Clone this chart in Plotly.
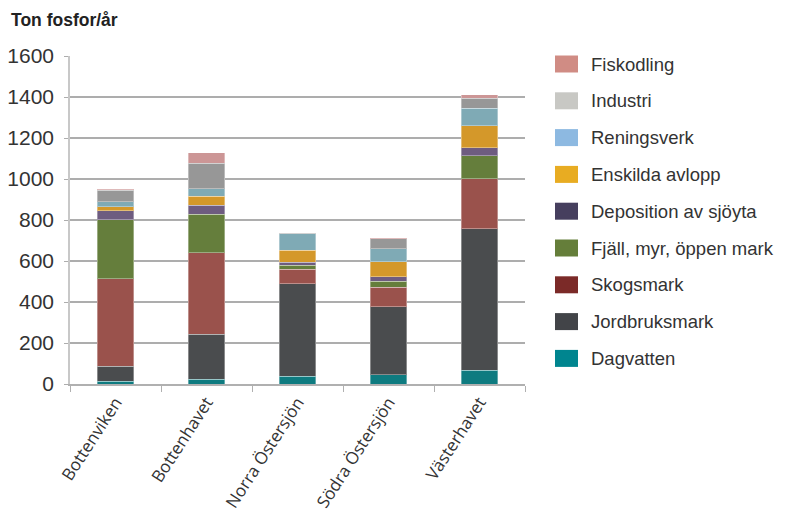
import plotly.graph_objects as go

categories = ["Bottenviken", "Bottenhavet", "Norra Östersjön", "Södra Östersjön", "Västerhavet"]

# series (bottom to top)
dagvatten  = [13, 24, 39, 44, 66]
jordbruk   = [73, 218, 449, 332, 692]
skogsmark  = [428, 398, 71, 97, 244]
fjall      = [288, 187, 20, 29, 112]
deposition = [44, 44, 14, 20, 39]
enskilda   = [18, 44, 59, 75, 107]
reningsverk = [24, 38, 80, 64, 84]
industri   = [58, 125, 3, 48, 49]
fiskodling = [5, 49, 2, 5, 17]

series_names = ["Dagvatten", "Jordbruksmark", "Skogsmark", "Fjäll, myr, öppen mark",
                "Deposition av sjöyta", "Enskilda avlopp", "Reningsverk", "Industri", "Fiskodling"]
series_values = [dagvatten, jordbruk, skogsmark, fjall, deposition, enskilda, reningsverk, industri, fiskodling]
bar_colors = ["#0E7B80", "#4A4C4E", "#9A524C", "#657E3C", "#6E5C80", "#D4982A", "#7FAAB5", "#979797", "#CC9696"]
legend_colors = ["#00858F", "#424448", "#7B2A28", "#657E3A", "#463F5E", "#E8AC22", "#8DB9E1", "#C8C8C4", "#D08C84"]

y_ticks = [0, 200, 400, 600, 800, 1000, 1200, 1400, 1600]

fig = go.Figure()
for name, vals, col in zip(series_names, series_values, bar_colors):
    fig.add_trace(go.Bar(
        x=categories, y=vals, name=name, showlegend=False,
        marker=dict(color=col, line=dict(color="rgba(255,255,255,0.35)", width=1)),
    ))

OFF = 8  # page body margin
W, H = 789 - OFF, 511 - OFF
PL, PR, PT, PB = 70, 525, 56, 384  # plot area in page pixels
L = PL - OFF
T = PT - OFF
PW = PR - PL
PH = PB - PT
R = W - L - PW
B = H - T - PH


def px(x):
    return (x - PL) / PW


def py(y):
    return 1 - (y - PT) / PH


shapes = []
annotations = []
leg_names = list(reversed(series_names))
leg_cols = list(reversed(legend_colors))
y0 = 64
step = 36.8
for i, (n, c) in enumerate(zip(leg_names, leg_cols)):
    yc = y0 + i * step
    shapes.append(dict(type="rect", xref="paper", yref="paper",
                       x0=px(555), x1=px(578), y0=py(yc + 8.5), y1=py(yc - 8.5),
                       fillcolor=c, line=dict(width=0)))
    annotations.append(dict(text=n, xref="paper", yref="paper",
                            x=px(589), y=py(yc),
                            xanchor="left", yanchor="middle", showarrow=False,
                            font=dict(family="Liberation Sans, Arial, sans-serif", size=18.5, color="#333333")))

annotations.append(dict(text="<b>Ton fosfor/år</b>", xref="paper", yref="paper",
                        x=px(9), y=py(20),
                        xanchor="left", yanchor="middle", showarrow=False,
                        font=dict(family="Liberation Sans, Arial", size=17.5, color="#222222")))

fig.update_layout(
    barmode="stack",
    bargap=0.6,
    width=W, height=H,
    margin=dict(l=L, r=R, t=T, b=B),
    paper_bgcolor="white", plot_bgcolor="white",
    shapes=shapes, annotations=annotations,
    xaxis=dict(
        type="category", tickangle=-57, automargin=False,
        tickfont=dict(family="Open Sans, sans-serif", size=17, color="#333333"),
        ticks="outside", tickson="boundaries", ticklen=6, tickcolor="#B0B0B0",
        showline=True, linecolor="#B0B0B0", linewidth=1.5, showgrid=False,
    ),
    yaxis=dict(
        range=[0, 1600], tickvals=y_ticks, automargin=False,
        tickfont=dict(family="Liberation Sans, Arial, sans-serif", size=21, color="#333333"),
        showgrid=True, gridcolor="#ADADAD", gridwidth=1.5,
        ticks="outside", ticklen=4, tickcolor="#ADADAD", ticklabelstandoff=6,
        showline=True, linecolor="#C8C8C8", linewidth=1.5, zeroline=False,
    ),
)

fig.write_html("out.html")
